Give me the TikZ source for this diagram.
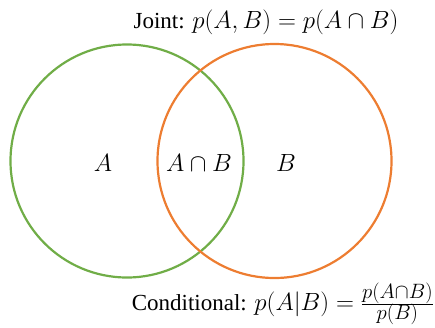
\documentclass[tikz,border=0pt]{standalone}
\usepackage{fontspec}
\setmainfont{Liberation Serif}
\definecolor{vgreen}{HTML}{70AD47}
\definecolor{vorange}{HTML}{ED7D31}
\newcommand{\mathbig}[1]{{\fontsize{25.5}{30}\selectfont$#1$}}
\newcommand{\mathsm}[1]{\mbox{\fontsize{19.5}{22}\selectfont$#1$}}
\begin{document}
\begin{tikzpicture}[x=1pt,y=-1pt,
  setcircle/.style={line width=2.2pt},
  lbl/.style={inner sep=0pt,font=\fontsize{23}{27}\selectfont},
  inlbl/.style={inner sep=0pt,font=\fontsize{24.5}{28}\selectfont}]
\useasboundingbox (0,0) rectangle (435,327);
\draw[setcircle,vgreen] (127,161) circle[radius=116.5];
\draw[setcircle,vorange] (274.5,161) circle[radius=117];
\node[inlbl] (a) at (103,163) {$A$};
\node[inlbl] (ab) at (199,163) {$A\cap B$};
\node[inlbl] (b) at (286,163) {$B$};
\node[lbl,anchor=base] (joint) at (266,28) {Joint: \mathbig{p(A,B)=p(A\cap B)}};
\node[lbl,anchor=base east] (cond) at (434,310) {Conditional: \mathbig{p(A|B)=\frac{\mathsm{p(A{\cap}B)}}{\mathsm{p(B)}}}};
\end{tikzpicture}
\end{document}
